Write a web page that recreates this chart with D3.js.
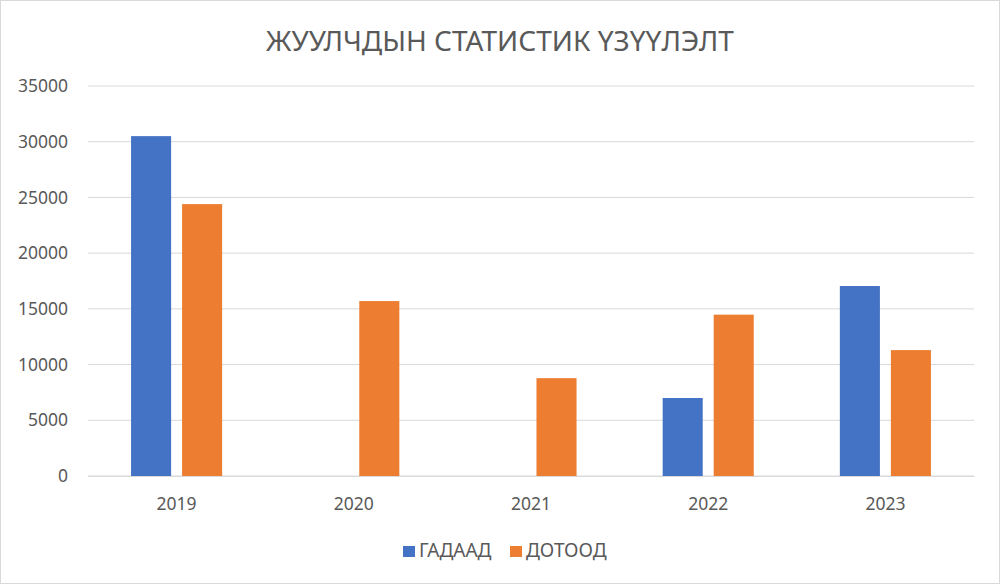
<html>
<head>
  <meta charset="utf-8">
  <title></title>
</head>
<body>
<div id='graph-container'></div>
</body>
<script src="https://d3js.org/d3.v7.min.js"></script>
<script type="text/javascript">

var titleText = 'ЖУУЛЧДЫН СТАТИСТИК ҮЗҮҮЛЭЛТ'
var years = ['2019', '2020', '2021', '2022', '2023']
var seriesNames = ['ГАДААД', 'ДОТООД']
var gadaad = [30500, 0, 0, 7000, 17050]
var dotood = [24400, 15700, 8780, 14480, 11300]
var yTicks = [0, 5000, 10000, 15000, 20000, 25000, 30000, 35000]
var colors = ['#4472C4', '#ED7D31']

var width = 1000
var height = 584
var margin = {top: 86, right: 26, bottom: 108, left: 88}

var svg = d3.select('#graph-container').append('svg')
  .attr('width', width)
  .attr('height', height)
  .style('font-family', "'Noto Sans', 'Open Sans', sans-serif")

svg.append('rect')
  .attr('x', 0.5).attr('y', 0.5)
  .attr('width', width - 1).attr('height', height - 1)
  .attr('fill', 'white')
  .attr('stroke', '#d9d9d9')

var xScale = d3.scaleBand()
  .domain(years)
  .range([margin.left, width - margin.right])
  .paddingInner(0.486)
  .paddingOuter(0.243)

var inner = d3.scaleBand()
  .domain(seriesNames)
  .range([0, xScale.bandwidth()])
  .paddingInner(0.215)

var yScale = d3.scaleLinear()
  .domain([0, 35000])
  .range([height - margin.bottom, margin.top])

// gridlines
svg.append('g')
  .selectAll('line')
  .data(yTicks)
  .enter()
  .append('line')
  .attr('x1', margin.left)
  .attr('x2', width - margin.right)
  .attr('y1', (d)=>{return yScale(d)})
  .attr('y2', (d)=>{return yScale(d)})
  .attr('stroke', '#d9d9d9')
  .attr('stroke-width', 1)

// y labels
var yAxis = svg.append('g')
  .attr('transform', `translate(${margin.left - 20}, 0)`)
  .call(d3.axisLeft(yScale).tickValues(yTicks).tickSize(0).tickPadding(0).tickFormat(d3.format('d')))
yAxis.select('.domain').remove()
yAxis.selectAll('text')
  .attr('fill', '#595959')
  .style('font-size', '17.5px')
  .style('font-family', "'Noto Sans', sans-serif")

// bars
var data = years.map((y, i)=>{return {year: y, values: [gadaad[i], dotood[i]]}})
var groups = svg.append('g').selectAll('g')
  .data(data)
  .enter()
  .append('g')
  .attr('transform', (d)=>{return `translate(${xScale(d.year)},0)`})
groups.selectAll('rect')
  .data((d)=>{return d.values.map((v, j)=>{return {name: seriesNames[j], value: v, color: colors[j]}})})
  .enter()
  .append('rect')
  .attr('x', (d)=>{return inner(d.name)})
  .attr('width', inner.bandwidth())
  .attr('y', (d)=>{return yScale(d.value)})
  .attr('height', (d)=>{return yScale(0) - yScale(d.value)})
  .attr('fill', (d)=>{return d.color})

// x axis
var xAxis = svg.append('g')
  .attr('transform', `translate(0, ${yScale(0)})`)
  .call(d3.axisBottom(xScale).tickSize(0).tickPadding(22))
xAxis.select('.domain').attr('stroke', '#d9d9d9')
xAxis.selectAll('text')
  .attr('fill', '#595959')
  .style('font-size', '17.5px')
  .style('font-family', "'Noto Sans', sans-serif")

// title
svg.append('text')
  .attr('x', width / 2)
  .attr('y', 51)
  .attr('text-anchor', 'middle')
  .attr('fill', '#595959')
  .style('font-size', '28px')
  .text(titleText)

// legend
var legendX = [403, 510]
var legend = svg.append('g').selectAll('g')
  .data(seriesNames)
  .enter()
  .append('g')
  .attr('transform', (d, i)=>{return `translate(${legendX[i]}, 551)`})
legend.append('rect')
  .attr('x', 0).attr('y', -5)
  .attr('width', 12).attr('height', 11)
  .attr('fill', (d, i)=>{return colors[i]})
legend.append('text')
  .attr('x', 16)
  .attr('y', 6)
  .attr('fill', '#595959')
  .style('font-size', '19px')
  .text((d)=>{return d})

</script>
<style type="text/css">
  body{margin:0;}
</style>
</html>
